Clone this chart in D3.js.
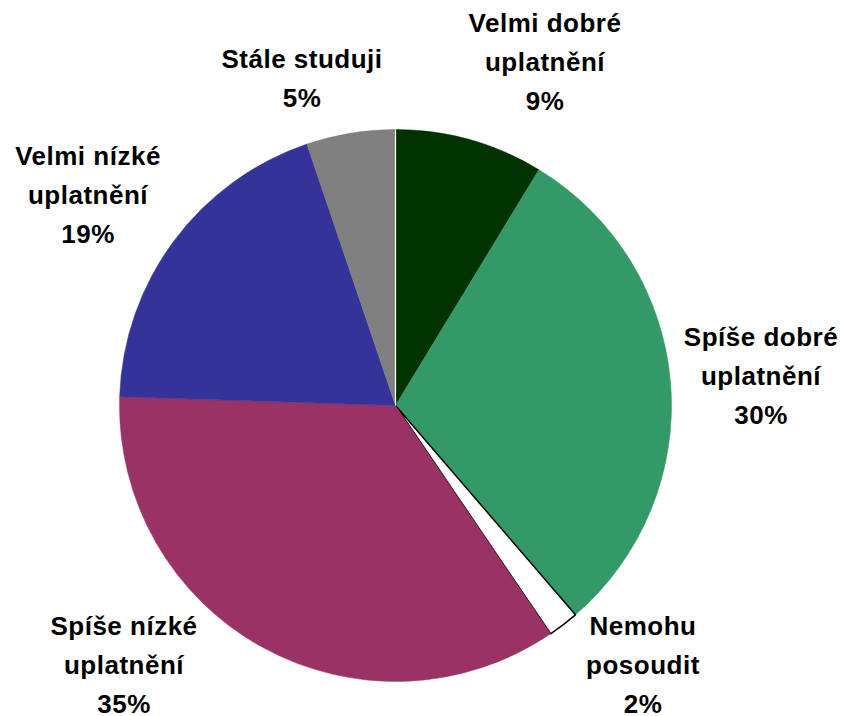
<!DOCTYPE html>
<html><head><meta charset="utf-8">
<script src="https://cdn.jsdelivr.net/npm/d3@7"></script>
<style>body{margin:0;background:#fff}svg{display:block}</style>
</head><body><svg width="846" height="716"></svg>
<script>
const categories = ["Velmi dobré uplatnění","Spíše dobré uplatnění","Nemohu posoudit","Spíše nízké uplatnění","Velmi nízké uplatnění","Stále studuji"];
const values = [8.7, 30.0, 1.8, 35.0, 19.3, 5.2];
const percentLabels = ["9%","30%","2%","35%","19%","5%"];
const labelLines = [["Velmi dobré","uplatnění"],["Spíše dobré","uplatnění"],["Nemohu","posoudit"],["Spíše nízké","uplatnění"],["Velmi nízké","uplatnění"],["Stále studuji"]];
const colors = ["#003300","#339966","#ffffff","#993366","#333399","#808080"];
// label anchor (center x, first line baseline y)
const labelAnchors = [[545,32],[761,346],[643,635],[124,635],[88,165],[302,68]];

const svg = d3.select("svg");
const cx = 395.5, cy = 405.5, r = 276;
const pie = d3.pie().sort(null).value(d => d)(values);
const arc = d3.arc().innerRadius(0).outerRadius(r);
const g = svg.append("g").attr("transform",`translate(${cx},${cy})`);
g.selectAll("path").data(pie).join("path")
  .attr("d", arc)
  .attr("fill", (d,i) => colors[i])
  .attr("stroke", (d,i) => colors[i] === "#ffffff" ? "#000" : colors[i])
  .attr("stroke-width", (d,i) => colors[i] === "#ffffff" ? 1.5 : 0.5)
  .attr("stroke-linejoin","round");
// white separator at start angle
g.append("line").attr("x1",0).attr("y1",0).attr("x2",0).attr("y2",-r).attr("stroke","#fff").attr("stroke-width",1.2);

const lab = svg.append("g").attr("font-family","Liberation Sans, Arial, sans-serif")
  .attr("font-weight","bold").attr("font-size",26).attr("letter-spacing",0.5)
  .attr("text-anchor","middle").attr("fill","#000");
categories.forEach((c,i) => {
  const [x,y] = labelAnchors[i];
  const lines = labelLines[i].concat([percentLabels[i]]);
  lines.forEach((t,j) => lab.append("text").attr("x",x).attr("y",y + j*39).text(t));
});
</script></body></html>
